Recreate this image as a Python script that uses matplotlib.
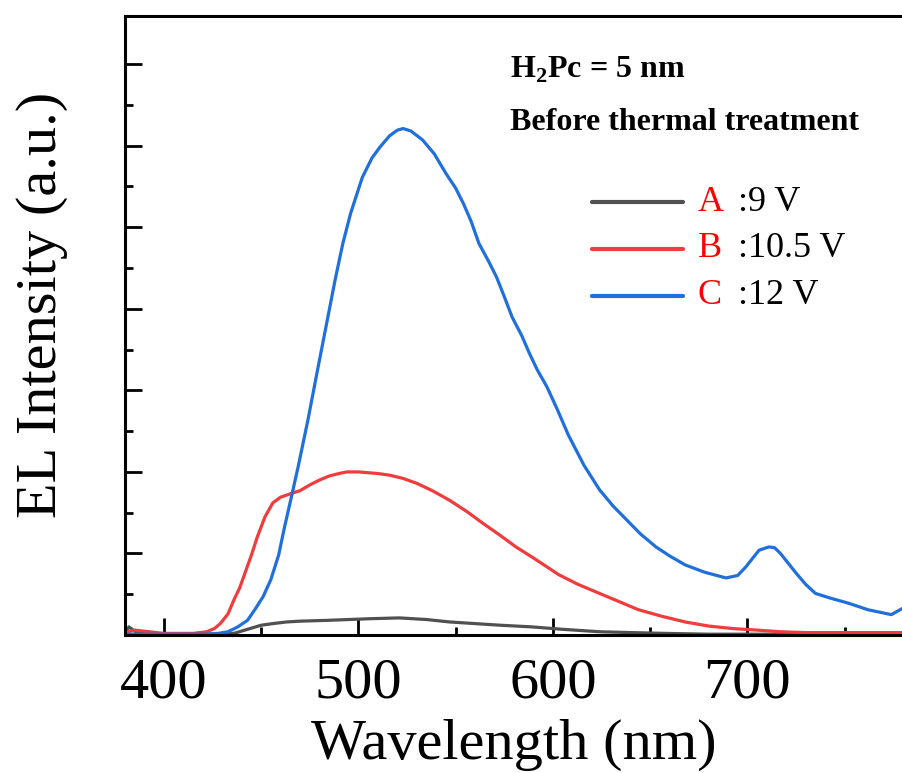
import numpy as np
import matplotlib
matplotlib.use('Agg')
import matplotlib.pyplot as plt

plt.rcParams['font.family'] = ['Liberation Serif', 'DejaVu Serif']
plt.rcParams['mathtext.fontset'] = 'custom'
plt.rcParams['mathtext.rm'] = 'Liberation Serif:bold'
plt.rcParams['mathtext.bf'] = 'Liberation Serif:bold'

# EL spectra, wavelength (nm) vs intensity (a.u.)
wl_a = [380, 382, 386, 400, 420, 430, 436, 443, 450, 456, 463, 470, 484, 495, 506, 521,
        535, 547, 560, 573, 589, 605, 624, 640, 658, 680, 700, 740, 780]
int_a = [0.03, 0.10, 0.03, 0.01, 0.01, 0.01, 0.02, 0.07, 0.12, 0.14, 0.16, 0.17, 0.18, 0.19, 0.20, 0.21,
         0.19, 0.16, 0.14, 0.12, 0.10, 0.07, 0.04, 0.03, 0.02, 0.01, 0.01, 0.01, 0.01]

wl_b = [380, 385, 400, 415, 422, 426, 429, 433, 436, 439, 442, 445, 448, 452, 456, 460,
        466, 470, 475, 480, 485, 490, 494, 500, 505, 510, 516, 523, 530, 538, 547, 556,
        564, 573, 581, 589, 596, 603, 613, 624, 634, 644, 656, 668, 680, 692, 705,
        717, 730, 743, 760, 780]
int_b = [0.03, 0.06, 0.02, 0.02, 0.04, 0.08, 0.14, 0.26, 0.43, 0.58, 0.78, 0.98, 1.20, 1.45, 1.62, 1.69,
         1.74, 1.77, 1.84, 1.90, 1.95, 1.98, 2.00, 2.00, 1.99, 1.98, 1.96, 1.92, 1.86, 1.77, 1.65, 1.51,
         1.37, 1.22, 1.08, 0.96, 0.85, 0.74, 0.62, 0.51, 0.41, 0.31, 0.23, 0.16, 0.11, 0.08, 0.06,
         0.04, 0.03, 0.03, 0.03, 0.03]

wl_c = [380, 400, 420, 428, 433, 438, 443, 447, 451, 455, 459, 462, 466, 469, 474, 479, 484,
        488, 492, 496, 502, 507, 511, 516, 520, 523, 527, 533, 539, 545, 550, 554, 558, 562,
        567, 571, 575, 579, 584, 588, 592, 597, 602, 608, 616, 624, 631, 638, 645, 653,
        660, 668, 678, 689, 695, 699, 703, 706, 711, 714, 717, 721, 725, 730, 735, 743,
        752, 762, 770, 774, 780]
int_c = [0.01, 0.01, 0.01, 0.02, 0.04, 0.10, 0.18, 0.32, 0.47, 0.68, 0.98, 1.32, 1.74, 2.06, 2.63, 3.25, 3.86,
         4.35, 4.80, 5.17, 5.61, 5.85, 5.98, 6.12, 6.19, 6.21, 6.18, 6.07, 5.90, 5.66, 5.48, 5.29, 5.07, 4.80,
         4.58, 4.39, 4.15, 3.90, 3.67, 3.45, 3.25, 3.04, 2.78, 2.45, 2.08, 1.78, 1.58, 1.41, 1.24, 1.08,
         0.97, 0.86, 0.77, 0.70, 0.73, 0.83, 0.95, 1.04, 1.08, 1.07, 1.00, 0.88, 0.76, 0.62, 0.51, 0.45,
         0.39, 0.31, 0.27, 0.25, 0.33]

labels = ['A', 'B', 'C']
voltages = [':9 V', ':10.5 V', ':12 V']
colors = ['#505050', '#f03c3c', '#1f6fdc']

fig = plt.figure(figsize=(9.03, 7.73), dpi=100)
ax = fig.add_axes([0.1384, 0.1785, 0.8616, 0.8008])

for wl, inten, c in zip([wl_a, wl_b, wl_c], [int_a, int_b, int_c], colors):
    ax.plot(wl, inten, color=c, lw=2.3)

ax.set_xlim(380, 780)
ax.set_ylim(0, 7.59)
ax.set_xticks([400, 500, 600, 700])
ax.set_xticks([450, 550, 650, 750], minor=True)
ax.set_yticks(np.arange(0, 8, 1.0))
ax.set_yticks(np.arange(0.5, 7.5, 1.0), minor=True)
ax.set_yticklabels([])
ax.tick_params(which='both', direction='in', width=2, top=False, right=False)
ax.tick_params(which='major', length=12, labelsize=42, pad=16)
ax.tick_params(which='minor', length=6)
for s in ['left', 'bottom', 'top']:
    ax.spines[s].set_linewidth(2.2)
ax.spines['right'].set_visible(False)

ax.set_xlabel('Wavelength (nm)', fontsize=42, labelpad=7)
ax.set_ylabel('EL Intensity (a.u.)', fontsize=42)
ax.yaxis.set_label_coords(-0.073, 0.533)

ax.text(0.495, 0.901, r'H$_\mathbf{2}$Pc = 5 nm', transform=ax.transAxes,
        fontsize=23, fontweight='bold', va='baseline')
ax.text(0.495, 0.816, 'Before thermal treatment', transform=ax.transAxes,
        fontsize=23, fontweight='bold', va='baseline')

# hand-made legend: coloured letter, black voltage
rows = [0.6995, 0.6236, 0.5477]
for lab, v, c, yy in zip(labels, voltages, colors, rows):
    ax.plot([0.600, 0.717], [yy, yy], transform=ax.transAxes, color=c, lw=3,
            solid_capstyle='round')
    ax.text(0.7365, yy, lab, transform=ax.transAxes, color='red', fontsize=26, va='center')
    ax.text(0.788, yy, v, transform=ax.transAxes, color='black', fontsize=26, va='center')

plt.savefig('out.png', dpi=100)
plt.close()
